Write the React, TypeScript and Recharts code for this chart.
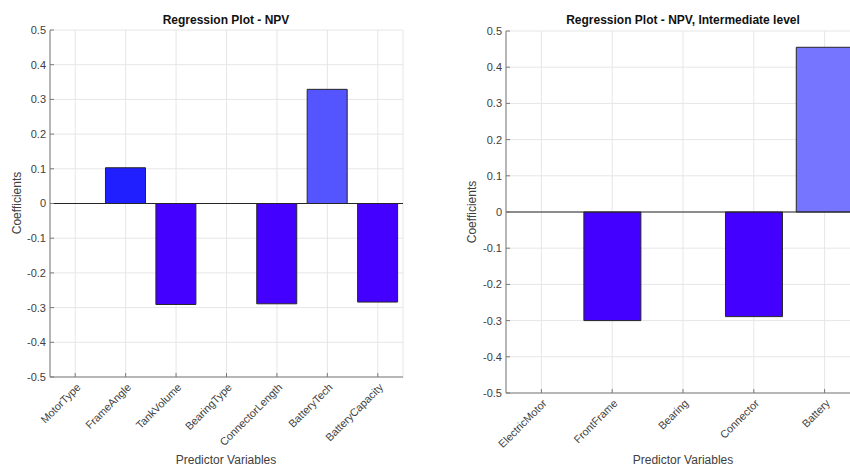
import React from 'react';
import { BarChart, Bar, XAxis, YAxis, CartesianGrid, ReferenceLine, Cell } from 'recharts';

const leftCategories = ['MotorType', 'FrameAngle', 'TankVolume', 'BearingType', 'ConnectorLength', 'BatteryTech', 'BatteryCapacity'];
const leftValues = [0, 0.103, -0.291, 0, -0.289, 0.329, -0.284];
const rightCategories = ['ElectricMotor', 'FrontFrame', 'Bearing', 'Connector', 'Battery'];
const rightValues = [0, -0.3, 0, -0.289, 0.455];
const yTicks = [-0.5, -0.4, -0.3, -0.2, -0.1, 0, 0.1, 0.2, 0.3, 0.4, 0.5];

const leftColors = ['#4400ff', '#1f1fff', '#4400ff', '#4400ff', '#4400ff', '#5555ff', '#4400ff'];
const rightColors = ['#4400ff', '#4400ff', '#4400ff', '#4400ff', '#7575ff'];

const FONT = '"Liberation Sans", Arial, Helvetica, sans-serif';
const AXIS = '#7a7a7a';
const TEXT = '#404040';

const fmt = (v: number) => String(Number(v.toFixed(1)));

const XTick = (props: any) => {
  const { x, y, payload } = props;
  const ax = x + 6;
  const ay = y + 11;
  return (
    <text
      x={ax}
      y={ay}
      transform={`rotate(-45, ${ax}, ${ay})`}
      textAnchor="end"
      fontSize={10.8}
      fill={TEXT}
      fontFamily={FONT}
    >
      {payload.value}
    </text>
  );
};

type PanelProps = {
  categories: string[];
  values: number[];
  colors: string[];
  width: number;
  height: number;
  margin: { top: number; right: number; bottom: number; left: number };
  yAxisWidth: number;
  xAxisHeight: number;
};

const Panel = ({ categories, values, colors, width, height, margin, yAxisWidth, xAxisHeight }: PanelProps) => {
  const data = categories.map((name, i) => ({ name, value: values[i] }));
  return (
    <BarChart width={width} height={height} data={data} margin={margin} barCategoryGap="10%">
      <CartesianGrid stroke="#e6e6e6" />
      <XAxis
        dataKey="name"
        type="category"
        interval={0}
        height={xAxisHeight}
        tick={<XTick />}
        tickSize={-4}
        tickMargin={4}
        axisLine={{ stroke: AXIS }}
        tickLine={{ stroke: AXIS }}
      />
      <XAxis
        xAxisId="top"
        dataKey="name"
        orientation="top"
        height={0}
        interval={0}
        tick={false}
        tickSize={-4}
        axisLine={{ stroke: AXIS }}
        tickLine={{ stroke: AXIS }}
      />
      <YAxis
        type="number"
        domain={[-0.5, 0.5]}
        ticks={yTicks}
        width={yAxisWidth}
        tickFormatter={fmt}
        tickSize={-4}
        tickMargin={8}
        interval={0}
        axisLine={{ stroke: AXIS }}
        tickLine={{ stroke: AXIS }}
        tick={{ fontSize: 11, fill: TEXT, fontFamily: FONT }}
      />
      <YAxis
        yAxisId="right"
        orientation="right"
        type="number"
        domain={[-0.5, 0.5]}
        ticks={yTicks}
        width={0}
        tick={false}
        tickSize={-4}
        interval={0}
        axisLine={{ stroke: AXIS }}
        tickLine={{ stroke: AXIS }}
      />
      <Bar dataKey="value" isAnimationActive={false} stroke="#262626" strokeWidth={1}>
        {data.map((d, i) => (
          <Cell key={d.name} fill={colors[i]} />
        ))}
      </Bar>
      <ReferenceLine y={0} stroke="#262626" strokeWidth={1} />
    </BarChart>
  );
};

const Overlay = ({ width, height, title, titleX, yLabelX, yLabelY, xLabelX }: any) => (
  <svg
    width={width}
    height={height}
    style={{ position: 'absolute', left: 0, top: 0, pointerEvents: 'none' }}
  >
    <text x={titleX} y={24} textAnchor="middle" fontSize={12} fontWeight="bold" fill="#111" fontFamily={FONT}>
      {title}
    </text>
    <text
      x={yLabelX}
      y={yLabelY}
      transform={`rotate(-90, ${yLabelX}, ${yLabelY})`}
      textAnchor="middle"
      fontSize={12}
      fill={TEXT}
      fontFamily={FONT}
    >
      Coefficients
    </text>
    <text x={xLabelX} y={464} textAnchor="middle" fontSize={12} fill={TEXT} fontFamily={FONT}>
      Predictor Variables
    </text>
  </svg>
);

export default function App() {
  return (
    <div
      style={{
        position: 'fixed',
        left: 0,
        top: 0,
        width: 850,
        height: 466,
        overflow: 'hidden',
        background: '#ffffff',
      }}
    >
      <div style={{ position: 'absolute', left: 0, top: 0, width: 425, height: 466 }}>
        <Panel
          categories={leftCategories}
          values={leftValues}
          colors={leftColors}
          width={425}
          height={466}
          margin={{ top: 30, right: 22, bottom: 0, left: 0 }}
          yAxisWidth={50}
          xAxisHeight={89}
        />
        <Overlay
          width={425}
          height={466}
          title="Regression Plot - NPV"
          titleX={226}
          yLabelX={21}
          yLabelY={203}
          xLabelX={226}
        />
      </div>
      <div style={{ position: 'absolute', left: 425, top: 0, width: 460, height: 466 }}>
        <Panel
          categories={rightCategories}
          values={rightValues}
          colors={rightColors}
          width={460}
          height={466}
          margin={{ top: 31, right: 25, bottom: 0, left: 0 }}
          yAxisWidth={81}
          xAxisHeight={73}
        />
        <Overlay
          width={460}
          height={466}
          title="Regression Plot - NPV, Intermediate level"
          titleX={258}
          yLabelX={51}
          yLabelY={212}
          xLabelX={258}
        />
      </div>
    </div>
  );
}
